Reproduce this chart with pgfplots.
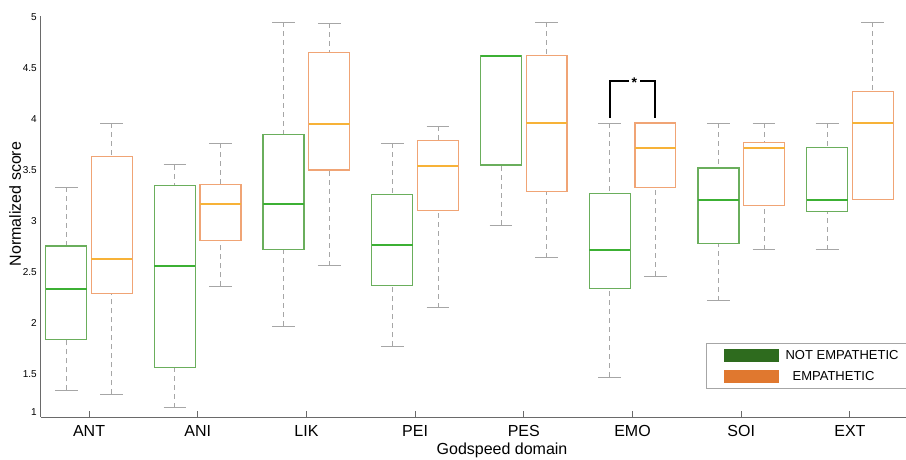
\documentclass[border=0pt]{standalone}
\usepackage{fontspec}
\setmainfont{Liberation Sans}
\usepackage{pgfplots}
\pgfplotsset{compat=1.18}
\usepgfplotslibrary{statistics}

\definecolor{boxgreen}{HTML}{6AAE5C}
\definecolor{medgreen}{HTML}{3CB034}
\definecolor{boxorange}{HTML}{F0A475}
\definecolor{medorange}{HTML}{F7B238}
\definecolor{whiskgray}{HTML}{A6A6A6}
\definecolor{leggreen}{HTML}{2E6B1E}
\definecolor{legorange}{HTML}{E0782F}
\definecolor{axisgray}{HTML}{6A6A6A}

% whiskers dashed, caps solid
\pgfplotsset{
  boxplot/draw/lower whisker/.code={
    \draw[whiskgray, line width=0.9pt, dash pattern=on 5pt off 4pt]
      (boxplot cs:\pgfplotsboxplotvalue{lower whisker})
      -- (boxplot cs:\pgfplotsboxplotvalue{lower quartile});
    \draw[whiskgray, line width=0.9pt]
      (boxplot whisker cs:\pgfplotsboxplotvalue{lower whisker},0)
      -- (boxplot whisker cs:\pgfplotsboxplotvalue{lower whisker},1);
  },
  boxplot/draw/upper whisker/.code={
    \draw[whiskgray, line width=0.9pt, dash pattern=on 5pt off 4pt]
      (boxplot cs:\pgfplotsboxplotvalue{upper whisker})
      -- (boxplot cs:\pgfplotsboxplotvalue{upper quartile});
    \draw[whiskgray, line width=0.9pt]
      (boxplot whisker cs:\pgfplotsboxplotvalue{upper whisker},0)
      -- (boxplot whisker cs:\pgfplotsboxplotvalue{upper whisker},1);
  },
  notemp/.style={draw=boxgreen, line width=1.3pt,
    boxplot/box extend=0.377, boxplot/whisker extend=0.21,
    boxplot/every median/.style={draw=medgreen, line width=2pt}},
  emp/.style={draw=boxorange, line width=1.3pt,
    boxplot/box extend=0.377, boxplot/whisker extend=0.21,
    boxplot/every median/.style={draw=medorange, line width=2pt}},
}

\begin{document}
\begin{tikzpicture}
\path[use as bounding box] (0,0) rectangle (906pt,459pt);
\clip (0,0) rectangle (906pt,459pt);
\begin{axis}[
  at={(41pt,42pt)}, anchor=south west,
  scale only axis, width=865pt, height=401pt,
  boxplot/draw direction=y,
  xmin=0.558, xmax=8.516, ymin=1.078, ymax=5.01,
  axis x line=bottom, axis y line=left,
  axis line style={axisgray, line width=1pt, -},
  xtick={1,...,8},
  xticklabels={ANT,ANI,LIK,PEI,PES,EMO,SOI,EXT},
  xtick align=inside,
  x tick style={axisgray, line width=1pt},
  major tick length=6pt,
  ytick={1.13,1.5,2,2.5,3,3.5,4,4.5,5},
  yticklabels={1,1.5,2,2.5,3,3.5,4,4.5,5},
  y tick style={draw=none},
  /pgf/number format/assume math mode=true,
  yticklabel style={font=\fontsize{10}{12}\selectfont, inner xsep=1pt},
  xticklabel style={font=\fontsize{16}{18}\selectfont, yshift=-5pt},
  xlabel={Godspeed domain},
  ylabel={Normalized score},
  label style={font=\fontsize{16}{18}\selectfont},
  xlabel style={at={(axis description cs:0.533,-0.0823)}, anchor=center},
  ylabel style={at={(axis description cs:-0.030,0.531)}, anchor=center},
  legend style={at={(0.769,0.1845)}, anchor=north west,
    draw=gray!70, line width=0.8pt,
    font=\fontsize{13}{15}\selectfont,
    inner xsep=17pt, inner ysep=5pt, row sep=6pt},
  legend cell align=left,
]
\addlegendimage{legend image code/.code={\fill[leggreen, draw=none] (0pt,-6.5pt) rectangle (55pt,6.5pt); \path[draw=none] (0pt,0pt) -- (60pt,0pt);}}
\addlegendentry{NOT EMPATHETIC}
\addlegendimage{legend image code/.code={\fill[legorange, draw=none] (0pt,-6.5pt) rectangle (55pt,6.5pt); \path[draw=none] (0pt,0pt) -- (60pt,0pt);}}
\addlegendentry{\hspace{7pt}EMPATHETIC}

% NOT EMPATHETIC (left box of each pair)
\addplot[notemp, boxplot prepared={draw position=0.79, lower whisker=1.34, lower quartile=1.84, median=2.33, upper quartile=2.755, upper whisker=3.33}] coordinates {};
\addplot[notemp, boxplot prepared={draw position=1.79, lower whisker=1.17, lower quartile=1.56, median=2.56, upper quartile=3.35, upper whisker=3.55}] coordinates {};
\addplot[notemp, boxplot prepared={draw position=2.79, lower whisker=1.97, lower quartile=2.72, median=3.17, upper quartile=3.85, upper whisker=4.95}] coordinates {};
\addplot[notemp, boxplot prepared={draw position=3.79, lower whisker=1.77, lower quartile=2.37, median=2.76, upper quartile=3.26, upper whisker=3.76}] coordinates {};
\addplot[notemp, boxplot prepared={draw position=4.79, lower whisker=2.96, lower quartile=3.55, median=4.62, upper quartile=4.62, upper whisker=4.62}] coordinates {};
\addplot[notemp, boxplot prepared={draw position=5.79, lower whisker=1.47, lower quartile=2.34, median=2.72, upper quartile=3.27, upper whisker=3.96}] coordinates {};
\addplot[notemp, boxplot prepared={draw position=6.79, lower whisker=2.22, lower quartile=2.78, median=3.21, upper quartile=3.52, upper whisker=3.96}] coordinates {};
\addplot[notemp, boxplot prepared={draw position=7.79, lower whisker=2.72, lower quartile=3.09, median=3.21, upper quartile=3.72, upper whisker=3.96}] coordinates {};

% EMPATHETIC (right box of each pair)
\addplot[emp, boxplot prepared={draw position=1.21, lower whisker=1.30, lower quartile=2.29, median=2.63, upper quartile=3.63, upper whisker=3.96}] coordinates {};
\addplot[emp, boxplot prepared={draw position=2.21, lower whisker=2.36, lower quartile=2.81, median=3.17, upper quartile=3.36, upper whisker=3.76}] coordinates {};
\addplot[emp, boxplot prepared={draw position=3.21, lower whisker=2.56, lower quartile=3.50, median=3.95, upper quartile=4.65, upper whisker=4.94}] coordinates {};
\addplot[emp, boxplot prepared={draw position=4.21, lower whisker=2.15, lower quartile=3.10, median=3.54, upper quartile=3.79, upper whisker=3.93}] coordinates {};
\addplot[emp, boxplot prepared={draw position=5.21, lower whisker=2.64, lower quartile=3.29, median=3.96, upper quartile=4.62, upper whisker=4.95}] coordinates {};
\addplot[emp, boxplot prepared={draw position=6.21, lower whisker=2.46, lower quartile=3.33, median=3.72, upper quartile=3.96, upper whisker=3.96}] coordinates {};
\addplot[emp, boxplot prepared={draw position=7.21, lower whisker=2.72, lower quartile=3.15, median=3.72, upper quartile=3.77, upper whisker=3.96}] coordinates {};
\addplot[emp, boxplot prepared={draw position=8.21, lower whisker=3.21, lower quartile=3.21, median=3.96, upper quartile=4.27, upper whisker=4.95}] coordinates {};

% significance bracket for EMO
\draw[black, line width=2pt] (axis cs:5.79,4.01) |- (axis cs:5.965,4.37);
\draw[black, line width=2pt] (axis cs:6.21,4.01) |- (axis cs:6.07,4.37);
\node[font=\fontsize{14}{14}\selectfont\bfseries, inner sep=0pt] at (axis cs:6.017,4.36) {*};
\end{axis}
\end{tikzpicture}
\end{document}
